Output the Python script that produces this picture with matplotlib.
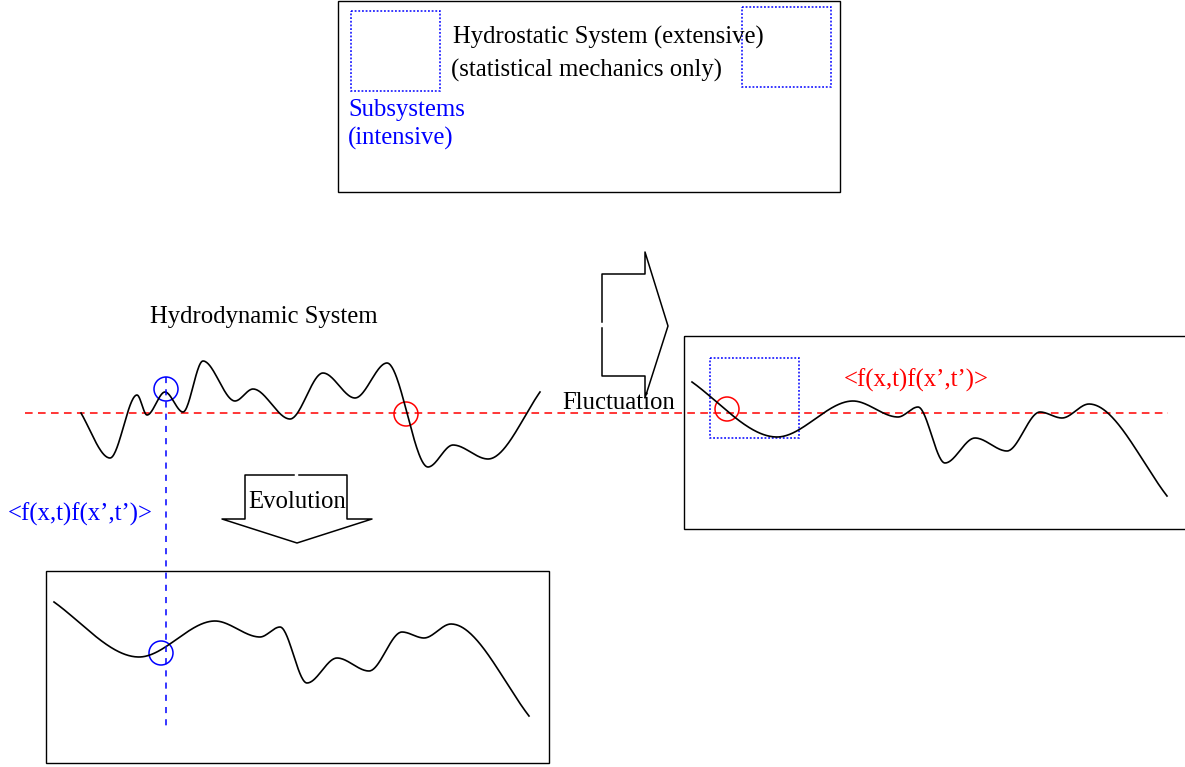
import numpy as np
import matplotlib
matplotlib.use("Agg")
import matplotlib.pyplot as plt
from matplotlib.patches import Rectangle, Circle

# ==========================================================
# Diagram data (pixel space of the 1185 x 767 canvas)
# ==========================================================

W, H = 1185, 767

# hydrodynamic curve key points (extrema)
hydro_x = [81, 110, 137, 147, 165, 183, 203, 235, 253, 290, 323, 355, 387, 428, 453, 488, 540]
hydro_y = [413, 458, 395, 415, 392, 412, 361, 401, 389, 419, 373, 398, 363, 467, 445, 459, 392]

# fluctuation curve key points (right box); the bottom box is the same curve shifted
fluct_x = [692, 777, 853, 898, 918, 945, 975, 1007, 1040, 1062, 1089, 1167]
fluct_y = [382, 437, 401, 417, 407, 463, 438, 451, 412, 418, 404, 496]
evol_shift = (-638, 220)

mean_level = 413

# boxes: (x0, y0, x1, y1)
static_box = (338, 0.5, 840, 192)
fluct_box = (684, 336, 1200, 529)
evol_box = (46, 571, 549, 763)
sub_boxes = [(351, 11, 440, 91), (742, 7, 831, 87), (710, 358, 799, 438)]

# arrows (open outlines with a small gap like the original drawing)
evol_arrow_x = [294, 245, 245, 222, 297, 372, 347, 347, 299]
evol_arrow_y = [475, 475, 519, 519, 543, 519, 519, 475, 475]
fluct_arrow_x = [602, 602, 645, 645, 668, 645, 645, 602, 602]
fluct_arrow_y = [322, 274, 274, 252, 326, 398, 376, 376, 328]

corr_label = "<f(x,t)f(x\u2019,t\u2019)>"


def pchip(x, y, n=600, end_scale=1.1):
    # shape-preserving cubic through the key points, flat at the extrema
    x = np.asarray(x, float)
    y = np.asarray(y, float)
    h = np.diff(x)
    d = np.diff(y) / h
    m = np.zeros_like(x)
    for k in range(1, len(x) - 1):
        if d[k - 1] * d[k] > 0:
            w1 = 2 * h[k] + h[k - 1]
            w2 = h[k] + 2 * h[k - 1]
            m[k] = (w1 + w2) / (w1 / d[k - 1] + w2 / d[k])
    m[0] = end_scale * d[0]
    m[-1] = end_scale * d[-1]
    xs = np.linspace(x[0], x[-1], n)
    idx = np.clip(np.searchsorted(x, xs) - 1, 0, len(x) - 2)
    t = (xs - x[idx]) / h[idx]
    h00 = 2 * t**3 - 3 * t**2 + 1
    h10 = t**3 - 2 * t**2 + t
    h01 = -2 * t**3 + 3 * t**2
    h11 = t**3 - t**2
    ys = h00 * y[idx] + h10 * h[idx] * m[idx] + h01 * y[idx + 1] + h11 * h[idx] * m[idx + 1]
    return xs, ys


# ==========================================================
# Figure
# ==========================================================

fig = plt.figure(figsize=(W / 100, H / 100), dpi=100)
ax = fig.add_axes([0, 0, 1, 1])
ax.set_xlim(0, W)
ax.set_ylim(H, 0)
ax.axis("off")

font = dict(family="Liberation Serif", fontsize=17.8)

# boxes
for (x0, y0, x1, y1) in (static_box, fluct_box, evol_box):
    ax.add_patch(Rectangle((x0, y0), x1 - x0, y1 - y0, fill=False,
                           edgecolor="black", linewidth=1.0))

for (x0, y0, x1, y1) in sub_boxes:
    ax.add_patch(Rectangle((x0, y0), x1 - x0, y1 - y0, fill=False,
                           edgecolor="blue", linewidth=1.1,
                           linestyle=(0, (1.2, 1.2))))

# mean level
ax.plot([25, 1168], [mean_level, mean_level], color="red", linewidth=1.1,
        dashes=(5, 3.5))

# curves
hx, hy = pchip(hydro_x, hydro_y)
ax.plot(hx, hy, color="black", linewidth=1.2)

fx, fy = pchip(fluct_x, fluct_y)
ax.plot(fx, fy, color="black", linewidth=1.2)
ax.plot(fx + evol_shift[0], fy + evol_shift[1], color="black", linewidth=1.2)

# vertical blue dashed line
ax.plot([166, 166], [377, 730], color="blue", linewidth=1.1, dashes=(4, 4))

# circles
ax.add_patch(Circle((166, 389), 12, fill=False, edgecolor="blue", linewidth=1.1))
ax.add_patch(Circle((161, 653), 12, fill=False, edgecolor="blue", linewidth=1.1))
ax.add_patch(Circle((406, 414), 12, fill=False, edgecolor="red", linewidth=1.1))
ax.add_patch(Circle((727, 409), 12, fill=False, edgecolor="red", linewidth=1.1))

# arrows
ax.plot(evol_arrow_x, evol_arrow_y, color="black", linewidth=1.1)
ax.plot(fluct_arrow_x, fluct_arrow_y, color="black", linewidth=1.1)

# texts
ax.text(453, 44, "Hydrostatic System (extensive)", va="baseline", **font)
ax.text(451, 77, "(statistical mechanics only)", va="baseline", **font)
ax.text(348, 116, "Subsystems", va="baseline", color="blue", **font)
ax.text(348, 145, "(intensive)", va="baseline", color="blue", **font)
ax.text(150, 323, "Hydrodynamic System", va="baseline", **font)
ax.text(562, 409, "Fluctuation", va="baseline", **font)
ax.text(248, 508, "Evolution", va="baseline", **font)
ax.text(8, 521, corr_label, va="baseline", color="blue", **font)
ax.text(844, 387, corr_label, va="baseline", color="red", **font)

fig.savefig("out.png", dpi=100)
plt.close(fig)
